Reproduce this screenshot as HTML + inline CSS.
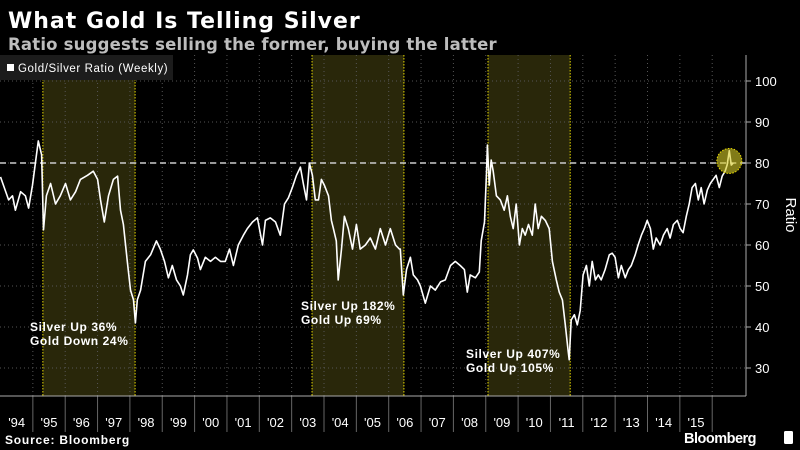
<!DOCTYPE html>
<html><head><meta charset="utf-8">
<style>
body{margin:0;background:#000;width:800px;height:450px;overflow:hidden;font-family:"Liberation Sans",sans-serif}
svg{display:block}
</style></head>
<body>
<svg id="chart" width="800" height="450" xmlns="http://www.w3.org/2000/svg">
<rect width="800" height="450" fill="#000"/>
<g id="bands"></g>
<g id="grid"></g>
<g id="axes"></g>
<path id="series" fill="none" stroke="#fff" stroke-width="1.6" stroke-linejoin="round"/>
<g id="overlay"></g>
<text x="8" y="28" fill="#fff" font-size="22" font-weight="bold" font-family="DejaVu Sans, sans-serif" letter-spacing="1.0">What Gold Is Telling Silver</text>
<text x="8" y="50" fill="#bdbdbd" font-size="16.5" font-weight="bold" font-family="DejaVu Sans, sans-serif" letter-spacing="0.2">Ratio suggests selling the former, buying the latter</text>
<rect x="0" y="55" width="173" height="25" fill="#1c1c1c"/>
<rect x="7" y="64" width="7" height="7" fill="#fff"/>
<text x="18" y="72" fill="#fff" font-size="11.5" letter-spacing="0.6">Gold/Silver Ratio (Weekly)</text>
<g font-size="12" font-weight="bold" letter-spacing="0.6" fill="#fff">
<text x="30" y="331">Silver Up 36%</text>
<text x="30" y="345">Gold Down 24%</text>
<text x="301" y="310">Silver Up 182%</text>
<text x="301" y="324">Gold Up 69%</text>
<text x="466" y="358">Silver Up 407%</text>
<text x="466" y="372">Gold Up 105%</text>
</g>
<text transform="translate(786,215) rotate(90)" fill="#fff" font-size="15" text-anchor="middle">Ratio</text>
<text x="5" y="444" fill="#fff" font-size="12" font-weight="bold" letter-spacing="0.8">Source: Bloomberg</text>
<text x="684" y="443" fill="#fff" font-size="14.5" font-weight="bold" letter-spacing="-0.5">Bloomberg</text>
<rect x="784" y="431" width="9" height="13" rx="1.5" fill="#fff"/>
</svg>
<script>
const yTicks=[30,40,50,60,70,80,90,100];
const yearLabels=["'94","'95","'96","'97","'98","'99","'00","'01","'02","'03","'04","'05","'06","'07","'08","'09","'10","'11","'12","'13","'14","'15"];
const bandStarts=[1995.31,2003.63,2009.07];
const bandEnds=[1998.16,2006.47,2011.61];
const refLevel=80;
const dates=[1994.00,1994.09,1994.25,1994.37,1994.46,1994.62,1994.77,1994.87,1994.99,1995.08,1995.17,1995.27,1995.33,1995.42,1995.55,1995.70,1995.85,1996.01,1996.16,1996.32,1996.47,1996.69,1996.87,1997.00,1997.09,1997.21,1997.34,1997.49,1997.62,1997.71,1997.80,1997.92,1998.02,1998.11,1998.17,1998.23,1998.33,1998.48,1998.64,1998.82,1998.94,1999.07,1999.19,1999.31,1999.44,1999.56,1999.65,1999.78,1999.87,1999.96,2000.09,2000.18,2000.33,2000.49,2000.64,2000.80,2000.95,2001.08,2001.20,2001.35,2001.51,2001.63,2001.79,2001.94,2002.10,2002.19,2002.34,2002.50,2002.65,2002.78,2002.90,2003.02,2003.15,2003.27,2003.36,2003.46,2003.55,2003.64,2003.73,2003.83,2003.92,2004.01,2004.14,2004.23,2004.29,2004.38,2004.44,2004.54,2004.63,2004.75,2004.88,2005.00,2005.12,2005.28,2005.43,2005.59,2005.74,2005.90,2006.05,2006.21,2006.33,2006.36,2006.45,2006.55,2006.67,2006.76,2006.89,2006.98,2007.13,2007.29,2007.44,2007.60,2007.75,2007.91,2008.06,2008.21,2008.34,2008.43,2008.52,2008.68,2008.80,2008.86,2008.96,2009.02,2009.05,2009.11,2009.17,2009.23,2009.33,2009.45,2009.57,2009.67,2009.76,2009.85,2009.94,2010.04,2010.13,2010.22,2010.32,2010.44,2010.53,2010.62,2010.72,2010.84,2010.96,2011.06,2011.18,2011.27,2011.37,2011.46,2011.55,2011.58,2011.64,2011.74,2011.83,2011.92,2012.01,2012.11,2012.20,2012.29,2012.39,2012.48,2012.57,2012.69,2012.82,2012.91,2013.00,2013.10,2013.19,2013.31,2013.41,2013.50,2013.62,2013.71,2013.81,2013.90,2013.99,2014.09,2014.18,2014.27,2014.39,2014.49,2014.61,2014.70,2014.80,2014.92,2015.01,2015.10,2015.20,2015.29,2015.38,2015.48,2015.57,2015.66,2015.75,2015.85,2015.94,2016.03,2016.12,2016.22,2016.31,2016.40,2016.46,2016.53,2016.59,2016.65];
const ratios=[76.6,74.6,71,72,68.5,73,72,69,74.6,80,85.4,82,63.7,72,75,70,72,75,71,73,76,77,78,76,71,65.6,72,76,76.8,68.5,65,56,49,46.6,41,46.6,49,56,57.6,61,59,56,52,55,51.5,50,47.8,52.7,57.6,58.8,56.8,54,57,56,57,56,56,59,55,60,62.4,64,65.6,66.6,60,66,66.6,65.6,62.4,70,71.5,74,77,79,75,71,80,77,71,71,76,74.6,72,66,64,61,51.5,59,67,64,59,65,59,60,61.7,59,64,60,64,60,59,59,47.8,54,57,52.7,51.5,50,45.8,50,49,51,51.5,55,56,55,54,48.5,52.7,52,53.4,61,65.6,77,84.4,74.6,80.7,78,72,71,68.5,72,67,64,70,60,64,62.4,65,62.4,70,64,67,66,64,56,51.5,48.5,46.6,40.5,34,32,41.7,43,40.5,44,52.7,55,50,56,51.5,52.7,51.5,54,57.6,58,57,52,55,52,54,55,57.6,60,62.4,64,66,64,59,61.7,60,62.4,64,61.7,65,66,64,63,67,70,74,75,71,74,70,73.4,75,76,77,74,76.8,78,79.5,83,79.5,80];

const NS="http://www.w3.org/2000/svg";
const plotTop=55, plotBottom=396, axisX=746;
const xScale=t=>0.5+(t-1994)*32.35;
const yScale=v=>163+(80-v)*4.1;
function mk(tag,attrs,parent){const e=document.createElementNS(NS,tag);for(const k in attrs)e.setAttribute(k,attrs[k]);parent.appendChild(e);return e;}
const bands=document.getElementById('bands'),grid=document.getElementById('grid'),axes=document.getElementById('axes'),overlay=document.getElementById('overlay');

bandStarts.forEach((s,i)=>{
  const r=mk('rect',{x:xScale(s),y:plotTop,width:xScale(bandEnds[i])-xScale(s),height:plotBottom-plotTop,fill:'#29270a'},bands);
  
  
  [s,bandEnds[i]].forEach(t=>{
    const l=mk('line',{x1:xScale(t),x2:xScale(t),y1:plotTop,y2:plotBottom,stroke:'#e6d800','stroke-width':1,'stroke-dasharray':'1.5 1.5'},bands);
    
    
  });
});

yTicks.forEach(v=>{
  const y=yScale(v);
  const g=mk('line',{x1:0,x2:axisX,y1:y,y2:y,stroke:'#555','stroke-width':1,'stroke-dasharray':'1 3'},grid);
  
  
  mk('line',{x1:axisX,x2:axisX+5,y1:y,y2:y,stroke:'#aaa'},axes);
  const t=mk('text',{x:axisX+9,y:y+5,fill:'#fff','font-size':13},axes);
  t.textContent=v;
  
  
});

yearLabels.forEach((lab,i)=>{
  const xs=xScale(1995+i);
  const g=mk('line',{x1:xs,x2:xs,y1:plotTop,y2:plotBottom,stroke:'#555','stroke-width':1,'stroke-dasharray':'1 3'},grid);
  
  
  mk('line',{x1:xs,x2:xs,y1:plotBottom,y2:432,stroke:'#666'},axes);
  const t=mk('text',{x:xScale(1994.5+i),y:427,fill:'#fff','font-size':13,'text-anchor':'middle'},axes);
  t.textContent=lab;
  
  
});
mk('line',{x1:0,x2:axisX,y1:plotBottom,y2:plotBottom,stroke:'#aaa','stroke-width':1},axes);
mk('line',{x1:axisX,x2:axisX,y1:plotTop,y2:plotBottom,stroke:'#aaa','stroke-width':1},axes);

const ref=mk('line',{x1:0,x2:axisX,y1:yScale(refLevel),y2:yScale(refLevel),stroke:'#ccc','stroke-width':1.5,'stroke-dasharray':'6 4'},grid);



document.getElementById('series').setAttribute('d',dates.map((t,i)=>(i?'L':'M')+xScale(t).toFixed(1)+','+yScale(ratios[i]).toFixed(1)).join(''));

const last=dates.length-3;
const c=mk('circle',{cx:xScale(dates[last]),cy:yScale(80.5),r:12.5,fill:'rgba(215,205,40,0.6)',stroke:'#e6d800','stroke-width':1,'stroke-dasharray':'1.5 1.5'},overlay);


</script>
</body></html>
